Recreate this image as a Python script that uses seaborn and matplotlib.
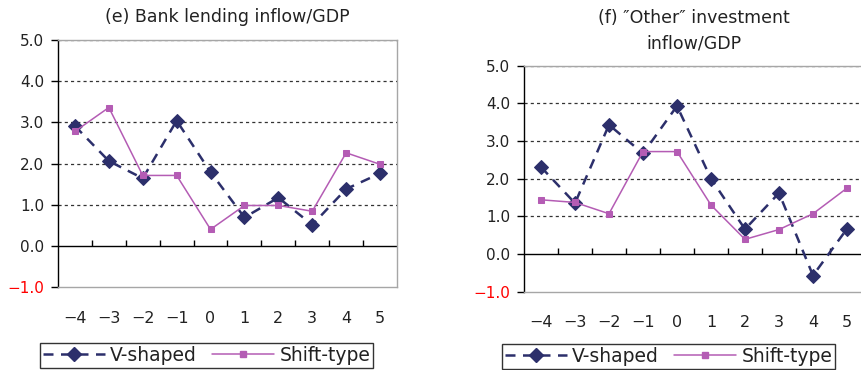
import numpy as np
import pandas as pd
import matplotlib
matplotlib.use("Agg")
import matplotlib.pyplot as plt
import seaborn as sns
from matplotlib.lines import Line2D

sns.set_theme(style="white")
plt.rcParams["font.family"] = ["DejaVu Sans"]

# Years relative to the turning point
periods = [-4, -3, -2, -1, 0, 1, 2, 3, 4, 5]
period_labels = ["−4", "−3", "−2", "−1", "0", "1", "2", "3", "4", "5"]

# (e) Bank lending inflow / GDP
bank_v_shaped = [2.91, 2.06, 1.64, 3.04, 1.79, 0.69, 1.17, 0.51, 1.38, 1.76]
bank_shift_type = [2.78, 3.36, 1.71, 1.71, 0.40, 0.98, 0.98, 0.84, 2.26, 1.98]

# (f) "Other" investment inflow / GDP
other_v_shaped = [2.31, 1.35, 3.43, 2.67, 3.93, 2.00, 0.66, 1.62, -0.57, 0.67]
other_shift_type = [1.44, 1.37, 1.07, 2.72, 2.72, 1.30, 0.39, 0.65, 1.07, 1.75]

y_ticks = [-1.0, 0.0, 1.0, 2.0, 3.0, 4.0, 5.0]

NAVY = "#2c2f6b"
ORCHID = "#b45cb4"
GRAY = "#a6a6a6"
TEXT = "#222222"


def draw_panel(ax, v_vals, s_vals, title, title_pad):
    df = pd.DataFrame({
        "pos": np.arange(len(periods)),
        "V-shaped": v_vals,
        "Shift-type": s_vals,
    })
    sns.lineplot(data=df, x="pos", y="V-shaped", ax=ax, color=NAVY,
                 lw=1.8, marker="D", markersize=7.5, markeredgecolor=NAVY,
                 dashes=(4, 3), zorder=4)
    sns.lineplot(data=df, x="pos", y="Shift-type", ax=ax, color=ORCHID,
                 lw=1.1, marker="s", markersize=5, markeredgecolor=ORCHID,
                 zorder=5)

    ax.set_xlim(-0.5, len(periods) - 0.5)
    ax.set_ylim(-1.0, 5.0)
    ax.set_xlabel("")
    ax.set_ylabel("")

    # dashed gridlines at the positive levels
    for yv in y_ticks[2:]:
        ax.axhline(yv, color="#333333", lw=0.9, ls=(0, (2.5, 2.5)), zorder=1)
    # zero line with category boundary ticks
    ax.axhline(0.0, color="black", lw=1.0, zorder=2)
    ax.vlines(np.arange(0.5, len(periods) - 0.5), 0.0, 0.15,
              color="black", lw=1.0, zorder=2)

    ax.set_yticks(y_ticks)
    ax.set_yticklabels([f"{v:.1f}".replace("-", "−") for v in y_ticks])
    ax.tick_params(axis="y", left=True, length=5, width=1, color="black",
                   labelsize=11, pad=5, direction="out")
    ax.set_xticks(np.arange(len(periods)))
    ax.set_xticklabels(period_labels)
    ax.tick_params(axis="x", bottom=False, length=0, labelsize=11.5, pad=17)
    for lbl in ax.get_yticklabels() + ax.get_xticklabels():
        lbl.set_color(TEXT)
    ax.get_yticklabels()[0].set_color("red")

    for side in ["top", "right", "bottom"]:
        ax.spines[side].set_color(GRAY)
        ax.spines[side].set_linewidth(1.0)
    ax.spines["left"].set_color("black")
    ax.spines["left"].set_linewidth(1.0)
    ax.set_title(title, fontsize=12.5, pad=title_pad, linespacing=1.5,
                 color=TEXT)


fig = plt.figure(figsize=(8.62, 3.70), dpi=100)
ax1 = fig.add_axes([58 / 862, 83 / 370, 339 / 862, 247 / 370])
ax2 = fig.add_axes([524 / 862, 78.3 / 370, 340 / 862, 226 / 370])

draw_panel(ax1, bank_v_shaped, bank_shift_type,
           "(e) Bank lending inflow/GDP", 13)
draw_panel(ax2, other_v_shaped, other_shift_type,
           "(f) ″Other″ investment\ninflow/GDP", 12.5)

handles = [
    Line2D([], [], color=NAVY, lw=1.8, dashes=(4, 3), marker="D",
           markersize=7, markeredgecolor=NAVY),
    Line2D([], [], color=ORCHID, lw=1.1, marker="s", markersize=5,
           markeredgecolor=ORCHID),
]
labels = ["V-shaped", "Shift-type"]
for anchor in [(40 / 862, 1 - 343 / 370), (502 / 862, 1 - 344 / 370)]:
    leg = fig.legend(handles, labels, loc="upper left", ncol=2,
                     bbox_to_anchor=anchor,
                     frameon=True, fancybox=False, fontsize=13.5,
                     handlelength=3.3, handletextpad=0.3, columnspacing=0.8,
                     borderpad=0.15, borderaxespad=0.0, labelcolor=TEXT)
    leg.get_frame().set_edgecolor("black")
    leg.get_frame().set_linewidth(1.0)

fig.savefig("out.png", dpi=100)
